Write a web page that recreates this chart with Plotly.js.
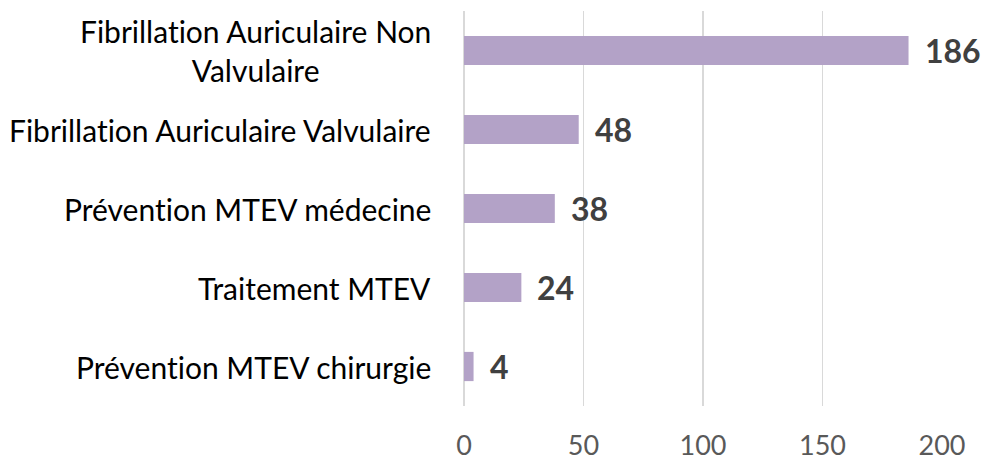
<!DOCTYPE html>
<html>
<head>
<meta charset="utf-8">
<script src="https://cdn.plot.ly/plotly-3.0.1.min.js"></script>
<style>html,body{margin:0;padding:0;background:#fff;}#chart{width:985px;height:461px;}svg text{font-variant-ligatures:none;font-feature-settings:"liga" 0;}</style>
</head>
<body>
<div id="chart"></div>
<script>
const categories = [
  "Fibrillation Auriculaire Non<br>Valvulaire",
  "Fibrillation Auriculaire Valvulaire",
  "Prévention MTEV médecine",
  "Traitement MTEV",
  "Prévention MTEV chirurgie"
];
const values = [186, 48, 38, 24, 4];
const tickVals = [0, 50, 100, 150, 200];
const tickText = ["0", "50", "100", "150", "200"];

const FONT = "Lato, 'Open Sans', sans-serif";

const trace = {
  type: "bar",
  orientation: "h",
  y: categories,
  x: values,
  marker: {color: "#B3A2C7"},
  hoverinfo: "none"
};

const annotations = [];
categories.forEach((c, i) => {
  annotations.push({
    xref: "paper", yref: "y", x: 0, y: c,
    xanchor: "right", yanchor: "middle", xshift: -31,
    text: c, showarrow: false, align: "center",
    font: {family: FONT, size: 30, color: "#000000"}
  });
  annotations.push({
    xref: "x", yref: "y", x: values[i], y: c,
    xanchor: "left", yanchor: "middle", xshift: 14,
    text: "<b>" + values[i] + "</b>", showarrow: false,
    font: {family: FONT, size: 32, color: "#404040"}
  });
});

const layout = {
  width: 985, height: 461,
  margin: {l: 464, r: 43, t: 11, b: 55},
  paper_bgcolor: "#ffffff", plot_bgcolor: "#ffffff",
  showlegend: false,
  bargap: 0.63,
  xaxis: {
    range: [0, 200], tickvals: tickVals, ticktext: tickText,
    showgrid: true, gridcolor: "#d9d9d9", gridwidth: 1.5,
    zeroline: true, zerolinecolor: "#d9d9d9", zerolinewidth: 1.5,
    showline: false, ticks: "", ticklabelstandoff: 21,
    tickfont: {family: FONT, size: 27, color: "#595959"}, fixedrange: true
  },
  yaxis: {
    type: "category", autorange: "reversed", showticklabels: false,
    showgrid: false, zeroline: false, showline: false, ticks: "", fixedrange: true
  },
  annotations: annotations
};

Plotly.newPlot("chart", [trace], layout, {displayModeBar: false, staticPlot: true});
</script>
</body>
</html>
